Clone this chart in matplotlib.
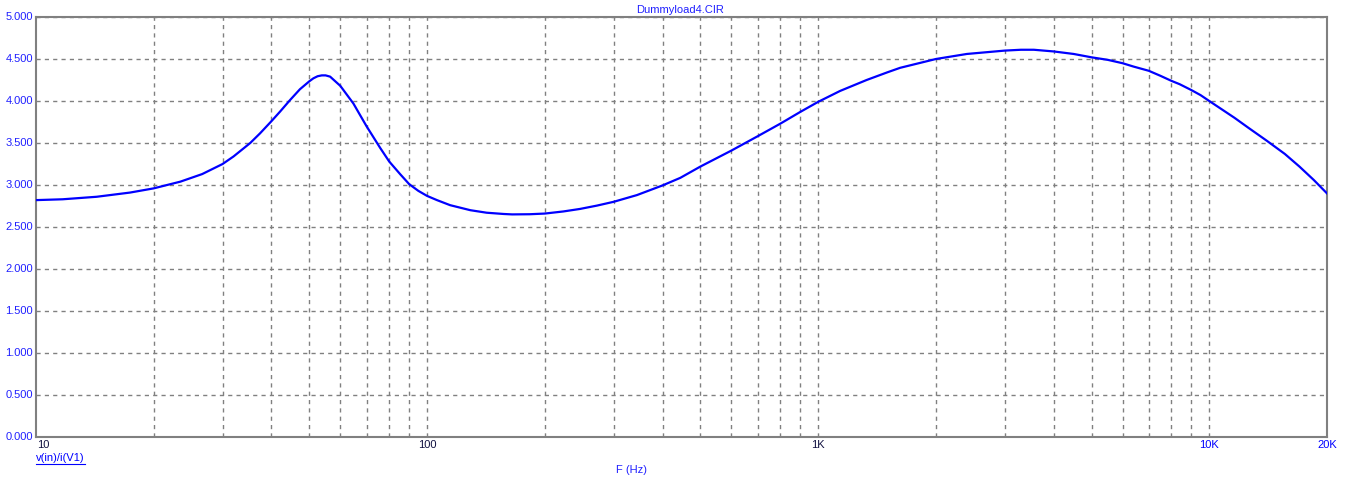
import numpy as np
import matplotlib.pyplot as plt
from matplotlib.ticker import FixedLocator, NullFormatter, NullLocator

# values
freq = [10, 11.7, 14.3, 17.4, 20, 23.4, 26.6, 30, 32, 35.3, 37.4, 40, 42.1,
        44.6, 47.3, 50, 51.2, 52.5, 53.8, 55, 56.5, 60, 64.8, 70, 75.9, 80,
        85.3, 90, 95, 100, 106, 114.5, 129, 142, 157, 165, 183, 200, 223, 246,
        272, 300, 344, 400, 444, 500, 600, 700, 800, 900, 1000, 1138,
        1330, 1500, 1620, 2000, 2400, 3000, 3300, 3560, 4000, 4500, 5000,
        5500, 6000, 6400, 7000, 7500, 8000, 8400, 9000, 9500, 10000, 11600,
        12600, 14000, 15600, 17000, 18500, 20000]
zin = [2.82, 2.83, 2.86, 2.91, 2.96, 3.04, 3.13, 3.25, 3.34, 3.50, 3.615,
       3.76, 3.875, 4.01, 4.14, 4.235, 4.27, 4.295, 4.305, 4.305, 4.29, 4.18,
       3.97, 3.70, 3.44, 3.28, 3.13, 3.01, 2.93, 2.87, 2.82, 2.76, 2.70, 2.67,
       2.655, 2.65, 2.652, 2.66, 2.685, 2.715, 2.755, 2.80, 2.88, 2.995, 3.085,
       3.22, 3.41, 3.58, 3.73, 3.87, 3.99, 4.12, 4.25, 4.34, 4.395,
       4.50, 4.56, 4.60, 4.61, 4.61, 4.59, 4.56, 4.52, 4.49, 4.45, 4.41,
       4.36, 4.30, 4.24, 4.20, 4.13, 4.07, 4.00, 3.80, 3.68, 3.53, 3.37,
       3.22, 3.06, 2.90]

xticks = [10, 100, 1000, 10000, 20000]
xlabels = ["10", "100", "1K", "10K", "20K"]
xlabel_colors = ["#101040", "#101040", "#101040", "#0000ff", "#0000ff"]
yticks = np.arange(0, 5.01, 0.5)

plt.rcParams['font.family'] = ['Liberation Sans', 'DejaVu Sans']
W, H = 1353, 488
fig = plt.figure(figsize=(W / 100, H / 100), dpi=100)
ax = fig.add_axes([36 / W, (H - 437) / H, (1327 - 36) / W, (437 - 17) / H])

ax.plot(freq, zin, color="#0000ff", lw=1.6, zorder=3, solid_joinstyle="round")
ax.set_xscale("log")
ax.set_xlim(10, 20000)
ax.set_ylim(0, 5)

# grid: every decade step plus 0.5 steps on y
gx = [m * 10 ** d for d in range(1, 5) for m in range(1, 10) if 10 < m * 10 ** d < 20000]
ax.xaxis.set_major_locator(FixedLocator(gx))
ax.xaxis.set_minor_locator(NullLocator())
ax.xaxis.set_major_formatter(NullFormatter())
ax.set_yticks(yticks)
ax.set_yticklabels([])
ax.grid(True, color="#808080", ls=(0, (3, 3)), lw=1)
ax.tick_params(length=0)

for s in ax.spines.values():
    s.set_color("#808080")
    s.set_linewidth(1.5)

fs = 8
for y in yticks:
    ax.text(-0.0025, y, "%.3f" % y, transform=ax.get_yaxis_transform(),
            ha="right", va="center", fontsize=fs, color="#2020ff")

for xv, lab, c in zip(xticks, xlabels, xlabel_colors):
    ha = "left" if xv == 10 else "center"
    ax.text(xv * (1.005 if xv == 10 else 1), -0.008, lab,
            transform=ax.get_xaxis_transform(), ha=ha, va="top",
            fontsize=fs, color=c)

fig.text(680 / W, 1 - 10 / H, "Dummyload4.CIR", ha="center", va="center",
         fontsize=fs, color="#2020ff")
fig.text(632 / W, 1 - 470 / H, "F (Hz)", ha="center", va="center",
         fontsize=fs, color="#2020ff")
lab = fig.text(36 / W, 1 - 458 / H, "v(in)/i(V1)", ha="left", va="center",
               fontsize=fs, color="#0000ff")
fig.canvas.draw()
bb = lab.get_window_extent()
fig.add_artist(plt.Line2D([bb.x0 / W, bb.x1 / W], [(bb.y0 - 1) / H, (bb.y0 - 1) / H],
                          color="#0000ff", lw=0.8, transform=fig.transFigure))

fig.savefig("out.png", dpi=100)
